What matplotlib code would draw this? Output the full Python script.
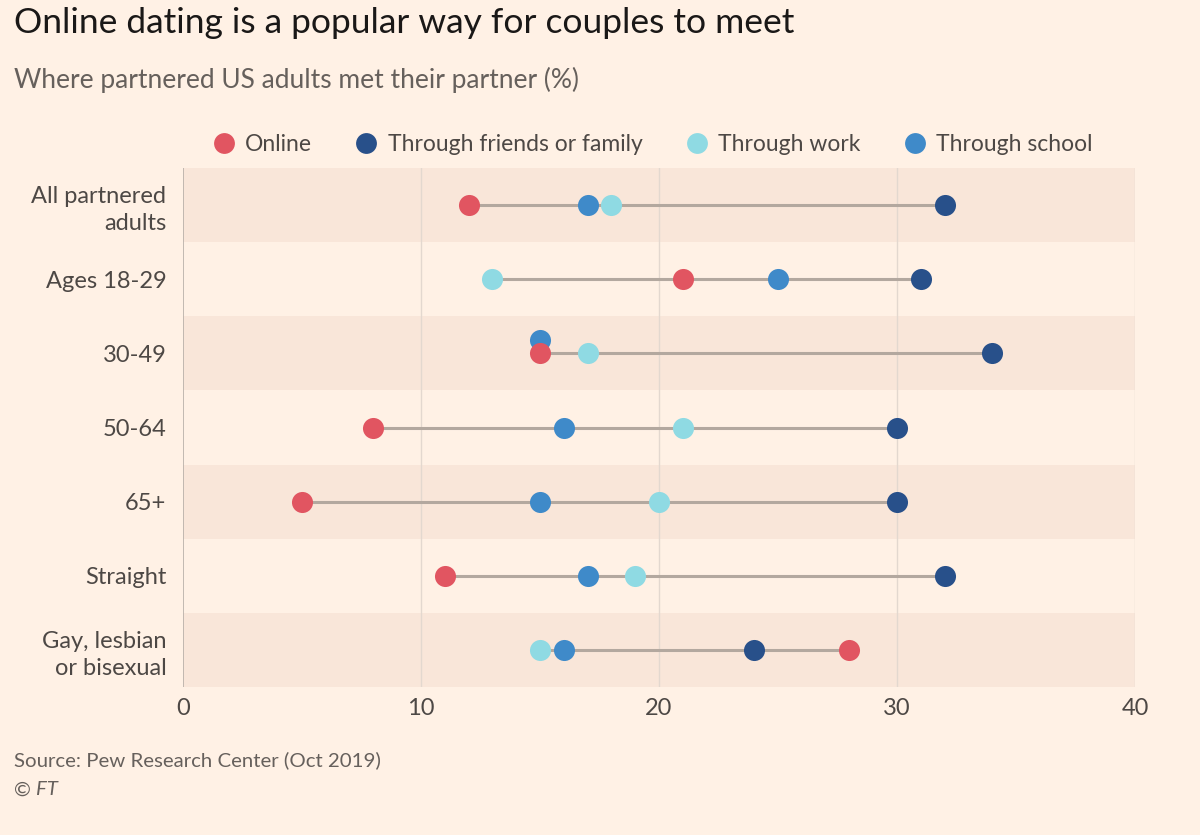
import matplotlib
matplotlib.use('Agg')
import matplotlib.pyplot as plt
from matplotlib.lines import Line2D
import numpy as np

plt.rcParams['font.family'] = ['Lato', 'DejaVu Sans']

# data (%)
groups = ["All partnered\nadults", "Ages 18-29", "30-49", "50-64", "65+",
          "Straight", "Gay, lesbian\nor bisexual"]
online = [12, 21, 15, 8, 5, 11, 28]
friends = [32, 31, 34, 30, 30, 32, 24]
work = [18, 13, 17, 21, 20, 19, 15]
school = [17, 25, 15, 16, 15, 17, 16]

series = [
    ("Online", online, "#E15561"),
    ("Through friends or family", friends, "#28508A"),
    ("Through work", work, "#8FDAE3"),
    ("Through school", school, "#3F8AC9"),
]
draw_order = [1, 2, 3, 0]  # online drawn last (on top)

bg = "#FFF1E5"
band = "#F9E6D9"
text_dark = "#4D4845"

fig = plt.figure(figsize=(12, 8.35), dpi=100, facecolor=bg)
ax = fig.add_axes([0.1525, 0.1772, 0.7933, 0.6216], facecolor=bg)

n = len(groups)
ypos = np.arange(n)

# alternating bands
for i in range(0, n, 2):
    ax.axhspan(i - 0.5, i + 0.5, color=band, zorder=0, lw=0)

# grid
for x in [10, 20, 30, 40]:
    ax.axvline(x, color="#E3D8CF", lw=1, zorder=1)
ax.axvline(0, color="#B8AFA8", lw=1.2, zorder=1)

# connecting lines
vals = np.array([s[1] for s in series])
for i in range(n):
    ax.plot([vals[:, i].min(), vals[:, i].max()], [i, i],
            color="#B3A89F", lw=2.2, zorder=2, solid_capstyle="butt")

# dots; school nudged up where it coincides with online
for z, k in enumerate(draw_order):
    name, v, c = series[k]
    yy = ypos.astype(float)
    if name == "Through school":
        yy = yy - 0.18 * (np.array(v) == np.array(online))
    ax.scatter(v, yy, s=230, color=c, zorder=3 + z, lw=0)

ax.set_xlim(0, 40)
ax.set_ylim(n - 0.5, -0.5)
ax.set_xticks([0, 10, 20, 30, 40])
ax.set_yticks(ypos)
ax.set_yticklabels(groups, linespacing=1.35)
ax.tick_params(axis="both", length=0, labelsize=17, colors=text_dark)
ax.tick_params(axis="y", pad=12)
ax.tick_params(axis="x", pad=8)
for sp in ax.spines.values():
    sp.set_visible(False)

# legend
handles = [Line2D([0], [0], marker="o", ls="", markersize=15, markerfacecolor=c,
                  markeredgewidth=0, label=name) for name, _, c in series]
fig.legend(handles=handles, loc="center left", bbox_to_anchor=(0.171, 0.827),
           ncol=4, frameon=False, fontsize=16.5, handlelength=0.8,
           handletextpad=0.55, columnspacing=1.95,
           labelcolor=text_dark, borderaxespad=0)

fig.text(0.012, 0.973, "Online dating is a popular way for couples to meet",
         fontsize=25.5, color="#1A1817", va="center", ha="left")
fig.text(0.012, 0.904, "Where partnered US adults met their partner (%)",
         fontsize=19, color="#66605C", va="center", ha="left")
fig.text(0.012, 0.089, "Source: Pew Research Center (Oct 2019)",
         fontsize=14.7, color="#66605C", va="center", ha="left")
fig.text(0.012, 0.054, "© ", fontsize=14.7, color="#66605C", va="center", ha="left")
fig.text(0.030, 0.054, "FT", fontsize=14.7, color="#66605C", va="center", ha="left",
         style="italic")

plt.savefig("out.png", dpi=100, facecolor=bg)
plt.close()
